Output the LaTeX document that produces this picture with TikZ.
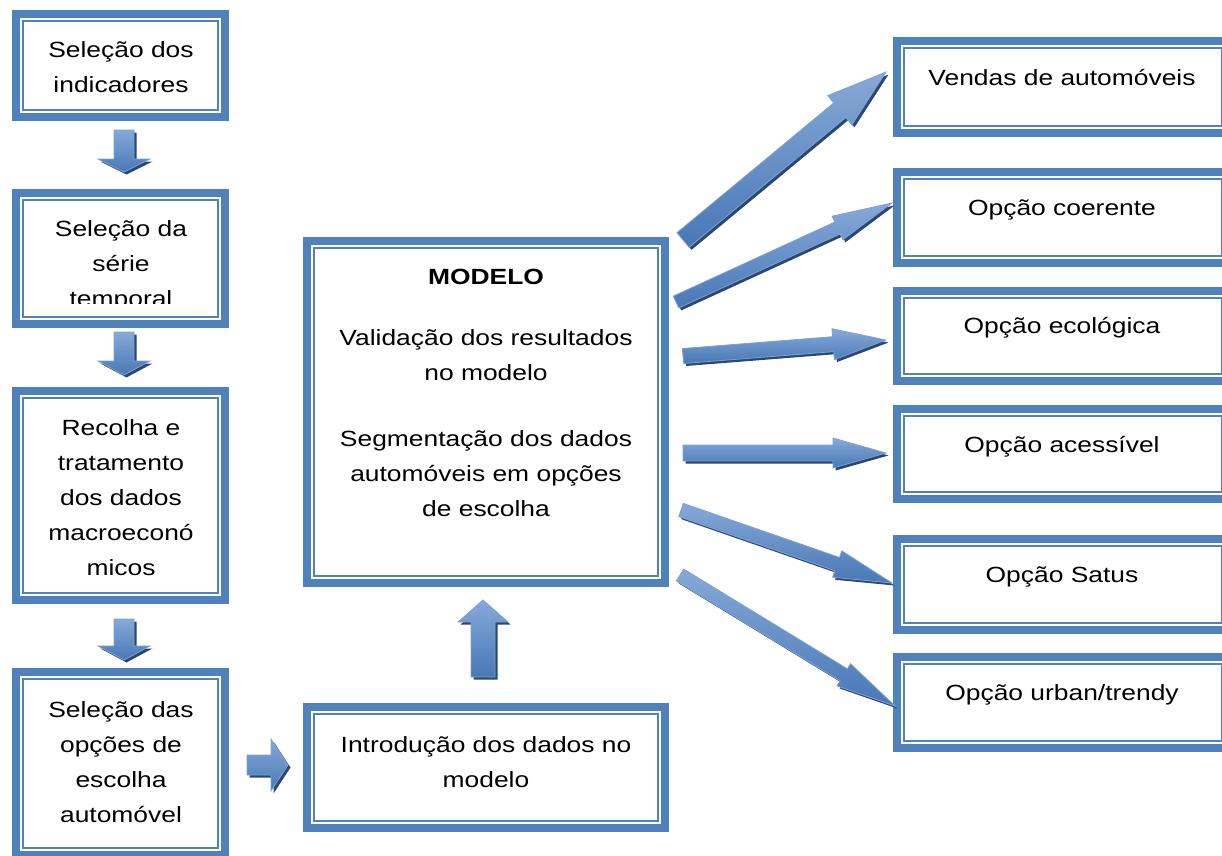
\documentclass[tikz,border=0pt]{standalone}
\usepackage{fontspec}
\setmainfont[FakeStretch=1.2]{Liberation Sans}
\usetikzlibrary{calc}
\definecolor{bblue}{HTML}{4F81BD}
\definecolor{ashadow}{HTML}{2A4870}
\definecolor{alight}{HTML}{86A9D8}
\definecolor{adark}{HTML}{4878B6}
\definecolor{aedge}{HTML}{7FA2D0}
\tikzset{
  box/.style={draw=bblue, line width=8pt, fill=white, outer sep=0pt, inner sep=0pt, anchor=north west},
  innerl/.style={draw=bblue, line width=2.2pt},
  txt/.style={font=\fontsize{22}{35}\selectfont, align=center, inner sep=0pt, anchor=north},
  arrowbody/.style={top color=alight, bottom color=adark, draw=aedge, line width=0.8pt, line join=miter},
  arrowshadow/.style={fill=ashadow, transform canvas={shift={(2.5pt,-2.5pt)}}}
}
% \mybox{name}{x1}{y1}{x2}{y2}  (outer edges, pixel coords, y downwards)
\newcommand{\mybox}[5]{%
  \node[box, minimum width=#4-#2-8, minimum height=#5-#3-8] (#1) at (#2+4,#3+4) {};
}
\newcommand{\myinner}[1]{%
  \draw[innerl] ([shift={(7pt,-7pt)}]#1.north west) rectangle ([shift={(-7pt,7pt)}]#1.south east);
}
\newcommand{\tstrut}{\rule{0pt}{22pt}}
% \blockarrow{A}{B}{half body}{half head}{head length}  (all in pt)
\newcommand{\arrpoly}[5]{%
  ($(#1)!#3pt!90:(#2)$) -- ($(#1-#2-h)!#3pt!90:(#2)$) -- ($(#1-#2-h)!#4pt!90:(#2)$) -- (#2)
  -- ($(#1-#2-h)!#4pt!-90:(#2)$) -- ($(#1-#2-h)!#3pt!-90:(#2)$) -- ($(#1)!#3pt!-90:(#2)$) -- cycle}
\newcommand{\blockarrow}[5]{%
  \coordinate (#1-#2-h) at ($(#2)!#5pt!(#1)$);
  \path[arrowshadow] \arrpoly{#1}{#2}{#3}{#4}{#5};
  \path[arrowbody] \arrpoly{#1}{#2}{#3}{#4}{#5};
}
\begin{document}
\begin{tikzpicture}[x=1pt,y=-1pt]
\useasboundingbox (0,0) rectangle (1222,855);
\clip (0,0) rectangle (1222,855);

% ---------- left column ----------
\mybox{b1}{12}{10}{229}{121}
\node[txt] (t1) at (121,57-22) {\tstrut Seleção dos\\indicadores};
\myinner{b1}

\mybox{b2}{12}{189}{229}{328}
\begin{scope}
  \clip (20,190) rectangle (222,303);
  \node[txt] (t2) at (121,236-22) {\tstrut Seleção da\\série\\temporal};
\end{scope}
\myinner{b2}

\mybox{b3}{12}{387}{229}{604}
\node[txt] (t3) at (121,435-22) {\tstrut Recolha e\\tratamento\\dos dados\\macroeconó\\micos};
\myinner{b3}

\mybox{b4}{12}{668}{229}{859}
\node[txt] (t4) at (121,717-22) {\tstrut Seleção das\\opções de\\escolha\\automóvel};
\myinner{b4}

% ---------- middle ----------
\mybox{model}{303}{237}{669}{587}
\node[txt] (tm) at (486,284-22) {\tstrut\textbf{MODELO}};
\node[txt] (tv) at (486,345-22) {\tstrut Validação dos resultados\\no modelo};
\node[txt] (ts) at (486,446-22) {\tstrut Segmentação dos dados\\automóveis em opções\\de escolha};
\myinner{model}

\mybox{intro}{303}{703}{669}{832}
\node[txt] (ti) at (486,752-22) {\tstrut Introdução dos dados no\\modelo};
\myinner{intro}

% ---------- right column ----------
\mybox{r1}{893}{37}{1233}{137}
\node[txt] (tr1) at (1062,85-22) {\tstrut Vendas de automóveis};
\myinner{r1}
\mybox{r2}{893}{168}{1233}{267}
\node[txt] (tr2) at (1062,215-22) {\tstrut Opção coerente};
\myinner{r2}
\mybox{r3}{893}{287}{1233}{385}
\node[txt] (tr3) at (1062,333-22) {\tstrut Opção ecológica};
\myinner{r3}
\mybox{r4}{893}{405}{1233}{503}
\node[txt] (tr4) at (1062,452-22) {\tstrut Opção acessível};
\myinner{r4}
\mybox{r5}{893}{535}{1233}{634}
\node[txt] (tr5) at (1062,582-22) {\tstrut Opção Satus};
\myinner{r5}
\mybox{r6}{893}{653}{1233}{752}
\node[txt] (tr6) at (1062,700-22) {\tstrut Opção urban/trendy};
\myinner{r6}

% ---------- arrow end points ----------
\coordinate (d1s) at (124,130); \coordinate (d1e) at (124,172);
\coordinate (d2s) at (124,332); \coordinate (d2e) at (124,375);
\coordinate (d3s) at (124,619); \coordinate (d3e) at (124,660);
\coordinate (hs) at (247,765);  \coordinate (he) at (288,765);
\coordinate (us) at (483,677);  \coordinate (ue) at (483,600);
\coordinate (o1s) at (683,240); \coordinate (o1e) at (886,72);
\coordinate (o2s) at (676,302); \coordinate (o2e) at (892,203);
\coordinate (o3s) at (683,356); \coordinate (o3e) at (886,340);
\coordinate (o4s) at (683,453); \coordinate (o4e) at (886,453);
\coordinate (o5s) at (681,510); \coordinate (o5e) at (892,583);
\coordinate (o6s) at (680,575); \coordinate (o6e) at (895,706);

% ---------- block arrows ----------
\blockarrow{d1s}{d1e}{10}{26}{13}
\blockarrow{d2s}{d2e}{10}{26}{14}
\blockarrow{d3s}{d3e}{10}{26}{14}
\blockarrow{hs}{he}{10}{26}{17}
\blockarrow{us}{ue}{12}{25}{22}
\blockarrow{o1s}{o1e}{9.5}{19}{60}
\blockarrow{o2s}{o2e}{6.5}{13}{60}
\blockarrow{o3s}{o3e}{7.5}{15.5}{53}
\blockarrow{o4s}{o4e}{8}{15}{53}
\blockarrow{o5s}{o5e}{7}{14}{58}
\blockarrow{o6s}{o6e}{7}{13}{60}
\end{tikzpicture}
\end{document}
